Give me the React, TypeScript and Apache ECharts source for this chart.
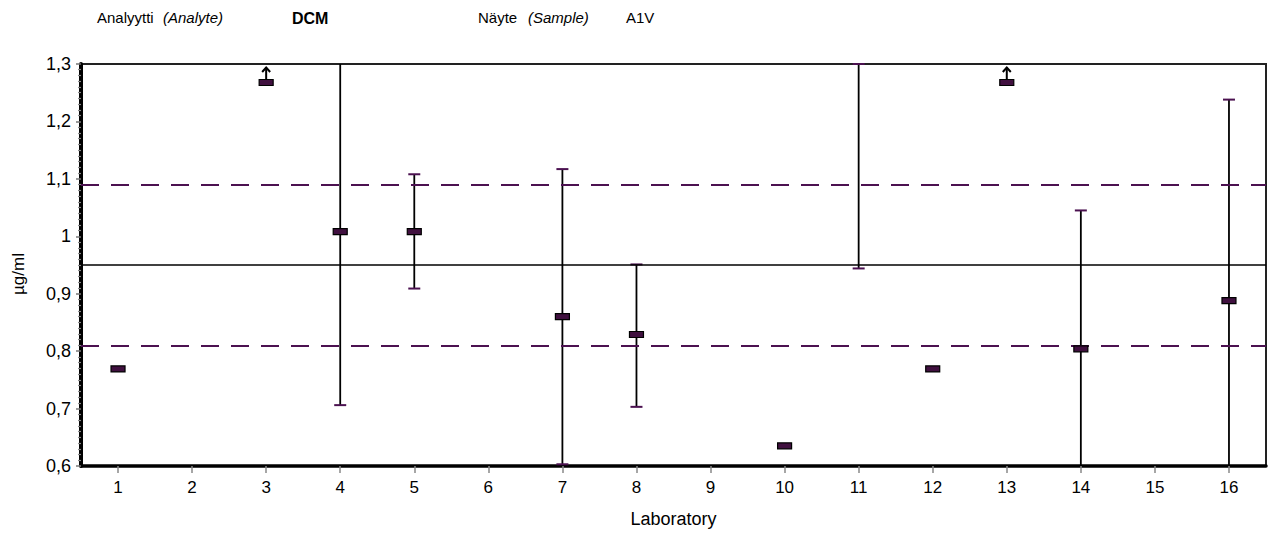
import React, { useEffect, useRef } from "react";
import * as echarts from "echarts";

// ---- data ----
const labs = ["1", "2", "3", "4", "5", "6", "7", "8", "9", "10", "11", "12", "13", "14", "15", "16"];
// reported results
const resultLabs = ["1", "4", "5", "7", "8", "10", "12", "14", "16"];
const resultValues = [0.769, 1.008, 1.008, 0.86, 0.829, 0.635, 0.769, 0.804, 0.888];
// results above the displayed range (drawn at the top with an arrow)
const offScaleHighLabs = ["3", "13"];
// uncertainty bars
const errLabs = ["4", "5", "7", "8", "11", "14", "16"];
const errLow = [0.706, 0.909, 0.603, 0.703, 0.944, 0.563, 0.539];
const errHigh = [1.31, 1.108, 1.117, 0.951, 1.3, 1.045, 1.238];
// reference lines
const assignedValue = 0.95;
const lowerLimit = 0.81;
const upperLimit = 1.09;
// axis range
const yMin = 0.6;
const yMax = 1.3;
const yInterval = 0.1;

const FONT = "'Liberation Sans', Arial, sans-serif";
const PURPLE = "#4b1150";
const MARKER_FILL = "#40103f";

export default function App() {
  const ref = useRef<HTMLDivElement>(null);

  useEffect(() => {
    if (!ref.current) return;
    const chart = echarts.init(ref.current, null, { renderer: "svg" });

    const errData = errLabs.map((l, i) => [labs.indexOf(l), errLow[i], errHigh[i]]);
    const resData = resultLabs.map((l, i) => [labs.indexOf(l), resultValues[i]]);
    const offData = offScaleHighLabs.map((l) => [labs.indexOf(l), yMax]);

    const option: any = {
      animation: false,
      grid: {
        left: 81,
        right: 7,
        top: 64,
        bottom: 71,
        show: true,
        borderColor: "#222",
        borderWidth: 2,
        backgroundColor: "transparent",
      },
      graphic: [
        { type: "text", left: 97, top: 10, style: { text: "Analyytti", font: `15px ${FONT}`, fill: "#000" } },
        { type: "text", left: 163, top: 10, style: { text: "(Analyte)", font: `italic 15px ${FONT}`, fill: "#000" } },
        { type: "text", left: 292, top: 10, style: { text: "DCM", font: `bold 16px ${FONT}`, fill: "#000" } },
        { type: "text", left: 478, top: 10, style: { text: "Näyte", font: `15px ${FONT}`, fill: "#000" } },
        { type: "text", left: 528, top: 10, style: { text: "(Sample)", font: `italic 15px ${FONT}`, fill: "#000" } },
        { type: "text", left: 626, top: 10, style: { text: "A1V", font: `15px ${FONT}`, fill: "#000" } },
        {
          type: "text",
          x: 18,
          y: 274,
          rotation: Math.PI / 2,
          style: {
            text: "µg/ml",
            font: `17px ${FONT}`,
            fill: "#000",
            align: "center",
            verticalAlign: "middle",
          },
        },
      ],
      xAxis: {
        type: "category",
        data: labs,
        boundaryGap: true,
        name: "Laboratory",
        nameLocation: "middle",
        nameGap: 44,
        nameTextStyle: { fontFamily: FONT, fontSize: 18, color: "#000" },
        axisLine: { onZero: false, lineStyle: { color: "#000", width: 3.5 } },
        axisTick: { show: true, alignWithLabel: true, length: 7, lineStyle: { color: "#888", width: 1.5 } },
        axisLabel: { fontFamily: FONT, fontSize: 17, color: "#000", margin: 13, interval: 0 },
        splitLine: { show: false },
      },
      yAxis: {
        type: "value",
        min: yMin,
        max: yMax,
        interval: yInterval,
        axisLine: { show: true, lineStyle: { color: "#000", width: 4 } },
        axisTick: { show: true, length: 5, lineStyle: { color: "#777", width: 1.5 } },
        minorTick: { show: true, splitNumber: 10, length: 3, lineStyle: { color: "#888", width: 1.2 } },
        axisLabel: {
          fontFamily: FONT,
          fontSize: 18,
          color: "#000",
          margin: 10,
          formatter: (v: number) => String(+v.toFixed(1)).replace(".", ","),
        },
        splitLine: { show: false },
      },
      series: [
        {
          type: "custom",
          name: "uncertainty",
          data: errData,
          clip: false,
          markLine: {
            silent: true,
            symbol: "none",
            label: { show: false },
            data: [
              { yAxis: assignedValue, lineStyle: { color: "#000", width: 1.6, type: "solid" } },
              { yAxis: upperLimit, lineStyle: { color: PURPLE, width: 2, type: [18, 12] } },
              { yAxis: lowerLimit, lineStyle: { color: PURPLE, width: 2, type: [18, 12] } },
            ],
          },
          renderItem: (params: any, api: any) => {
            const idx = api.value(0);
            const lo = api.value(1);
            const hi = api.value(2);
            const loC = Math.max(lo, yMin);
            const hiC = Math.min(hi, yMax);
            const pLo = api.coord([idx, loC]);
            const pHi = api.coord([idx, hiC]);
            const children: any[] = [
              {
                type: "line",
                shape: { x1: pLo[0], y1: pLo[1], x2: pHi[0], y2: pHi[1] },
                style: { stroke: "#000", lineWidth: 1.8 },
              },
            ];
            const capW = 6;
            if (lo >= yMin) {
              children.push({
                type: "line",
                shape: { x1: pLo[0] - capW, y1: pLo[1], x2: pLo[0] + capW, y2: pLo[1] },
                style: { stroke: PURPLE, lineWidth: 2 },
              });
            }
            if (hi <= yMax) {
              children.push({
                type: "line",
                shape: { x1: pHi[0] - capW, y1: pHi[1], x2: pHi[0] + capW, y2: pHi[1] },
                style: { stroke: PURPLE, lineWidth: 2 },
              });
            }
            return { type: "group", children };
          },
        },
        {
          type: "custom",
          name: "result",
          data: resData,
          clip: true,
          z: 5,
          renderItem: (params: any, api: any) => {
            const p = api.coord([api.value(0), api.value(1)]);
            return {
              type: "rect",
              shape: { x: p[0] - 7, y: p[1] - 3, width: 14, height: 6 },
              style: { fill: MARKER_FILL, stroke: "#000", lineWidth: 1.2 },
            };
          },
        },
        {
          type: "custom",
          name: "offscale",
          data: offData,
          clip: false,
          z: 5,
          renderItem: (params: any, api: any) => {
            const p = api.coord([api.value(0), api.value(1)]);
            const x = p[0];
            const top = p[1];
            const my = top + 18.5;
            return {
              type: "group",
              children: [
                {
                  type: "rect",
                  shape: { x: x - 7, y: my - 3, width: 14, height: 6 },
                  style: { fill: MARKER_FILL, stroke: "#000", lineWidth: 1.2 },
                },
                {
                  type: "line",
                  shape: { x1: x, y1: my - 3, x2: x, y2: top + 3.5 },
                  style: { stroke: "#000", lineWidth: 2 },
                },
                {
                  type: "polyline",
                  shape: { points: [[x - 4, top + 8], [x, top + 3.5], [x + 4, top + 8]] },
                  style: { stroke: "#000", lineWidth: 2, fill: "none" },
                },
              ],
            };
          },
        },
      ],
    };

    chart.setOption(option);
    return () => chart.dispose();
  }, []);

  return (
    <div
      ref={ref}
      style={{ position: "fixed", left: 0, top: 0, width: 1273, height: 537, background: "#fff" }}
    />
  );
}
